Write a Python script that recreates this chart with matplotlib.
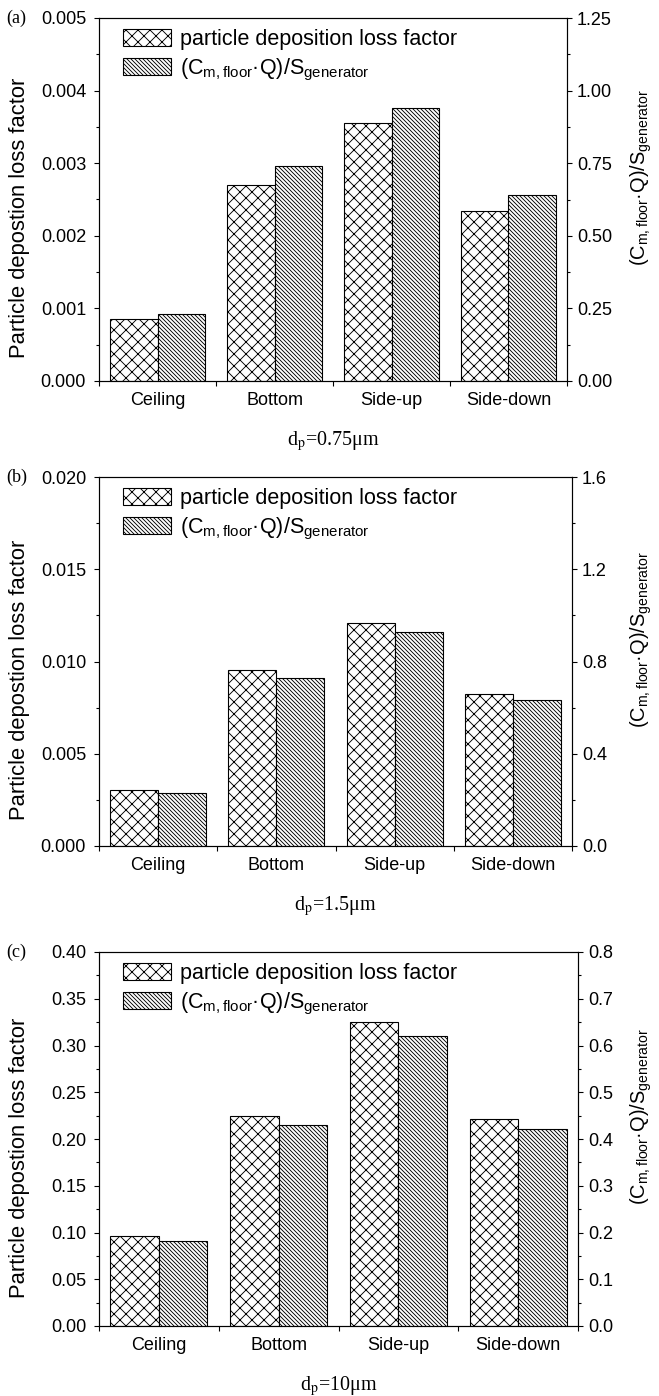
import matplotlib
matplotlib.use("Agg")
import matplotlib.pyplot as plt
from matplotlib.ticker import MultipleLocator, FormatStrFormatter, FixedLocator
from matplotlib.patches import Patch

plt.rcParams['font.family'] = 'Liberation Sans'
plt.rcParams['mathtext.fontset'] = 'custom'
plt.rcParams['mathtext.rm'] = 'Liberation Sans'
plt.rcParams['mathtext.it'] = 'Liberation Sans:italic'
plt.rcParams['mathtext.bf'] = 'Liberation Sans:bold'
plt.rcParams['hatch.linewidth'] = 0.9

categories = ["Ceiling", "Bottom", "Side-up", "Side-down"]

# particle deposition loss factor (left axis)
loss_a = [0.000855, 0.00270, 0.00355, 0.002335]
loss_b = [0.00304, 0.00955, 0.0121, 0.00825]
loss_c = [0.0961, 0.2246, 0.325, 0.2211]

# (C_m,floor * Q) / S_generator (right axis)
ratio_a = [0.231, 0.742, 0.939, 0.640]
ratio_b = [0.231, 0.729, 0.930, 0.631]
ratio_c = [0.181, 0.430, 0.621, 0.421]

panel_labels = ["(a)", "(b)", "(c)"]
size_labels = [r"d$_\mathrm{p}$=0.75μm", r"d$_\mathrm{p}$=1.5μm", r"d$_\mathrm{p}$=10μm"]

W, H = 659, 1396
fig = plt.figure(figsize=(W / 72, H / 72), dpi=72)

# left, right, top, bottom in pixels
boxes = [(99, 567, 18, 381), (99, 572, 477, 846), (99, 578, 952, 1326)]
left_lims = [(0.005, 0.001, "%.3f"), (0.020, 0.005, "%.3f"), (0.40, 0.05, "%.2f")]
right_lims = [(1.25, 0.25, "%.2f"), (1.6, 0.4, "%.1f"), (0.8, 0.1, "%.1f")]
loss_all = [loss_a, loss_b, loss_c]
ratio_all = [ratio_a, ratio_b, ratio_c]

x = list(range(1, len(categories) + 1))
w = 0.405
cross = "xx"
diag = "\\" * 6
ylabel = "Particle depostion loss factor"
rlabel = r"(C$_\mathrm{m,floor}$·Q)/S$_\mathrm{generator}$"

for i in range(3):
    l, r, t, b = boxes[i]
    ax = fig.add_axes([l / W, 1 - b / H, (r - l) / W, (b - t) / H])
    ax2 = ax.twinx()

    xs1 = [v - w / 2 for v in x]
    xs2 = [v + w / 2 for v in x]
    ax.bar(xs1, loss_all[i], width=w, color="white", edgecolor="black",
           hatch=cross, linewidth=1.1)
    ax2.bar(xs2, ratio_all[i], width=w, color="white", edgecolor="black",
            hatch=diag, linewidth=1.1)

    ax.set_xlim(0.5, 4.5)
    top, step, fmt = left_lims[i]
    ax.set_ylim(0, top)
    ax.yaxis.set_major_locator(MultipleLocator(step))
    ax.yaxis.set_minor_locator(MultipleLocator(step / 2))
    ax.yaxis.set_major_formatter(FormatStrFormatter(fmt))

    rtop, rstep, rfmt = right_lims[i]
    ax2.set_ylim(0, rtop)
    ax2.yaxis.set_major_locator(MultipleLocator(rstep))
    ax2.yaxis.set_minor_locator(MultipleLocator(rstep / 2))
    ax2.yaxis.set_major_formatter(FormatStrFormatter(rfmt))

    ax.set_xticks(x)
    ax.set_xticklabels(categories)
    ax.xaxis.set_minor_locator(FixedLocator([0.5, 1.5, 2.5, 3.5, 4.5]))
    ax.tick_params(axis="x", which="major", length=0, pad=11, labelsize=18)
    ax.tick_params(axis="x", which="minor", length=5, width=1.1, direction="out")
    ax.tick_params(axis="y", which="major", length=5, width=1.1, direction="out",
                   labelsize=18, pad=8)
    ax.tick_params(axis="y", which="minor", length=3, width=1.1, direction="out")
    ax2.tick_params(axis="y", which="major", length=5, width=1.1, direction="out",
                    labelsize=18, pad=5)
    ax2.tick_params(axis="y", which="minor", length=3, width=1.1, direction="out")

    for s in list(ax.spines.values()) + list(ax2.spines.values()):
        s.set_linewidth(1.1)

    ax.set_ylabel(ylabel, fontsize=22)
    ax.yaxis.set_label_coords((30 - l) / (r - l), 0.45)

    ax2.set_ylabel(rlabel, fontsize=20)
    ax2.yaxis.set_label_coords((628 - l) / (r - l), 0.56)

    ax.set_xlabel(size_labels[i], fontsize=20, family="Liberation Serif",
                  math_fontfamily="stix", labelpad=20)

    fig.text(6 / W, 1 - t / H, panel_labels[i], fontsize=18,
             family="Liberation Serif", va="center", ha="left")

    handles = [Patch(facecolor="white", edgecolor="black", hatch=cross, linewidth=1.1),
               Patch(facecolor="white", edgecolor="black", hatch=diag, linewidth=1.1)]
    ax2.legend(handles, ["particle deposition loss factor", rlabel],
               loc="upper left", bbox_to_anchor=((123 - l) / (r - l), 1 - 11 / (b - t)),
               frameon=False, fontsize=21.5, handlelength=2.23, handleheight=0.84,
               handletextpad=0.4, borderpad=0, borderaxespad=0, labelspacing=0.3)

fig.savefig("out.png", dpi=72)
